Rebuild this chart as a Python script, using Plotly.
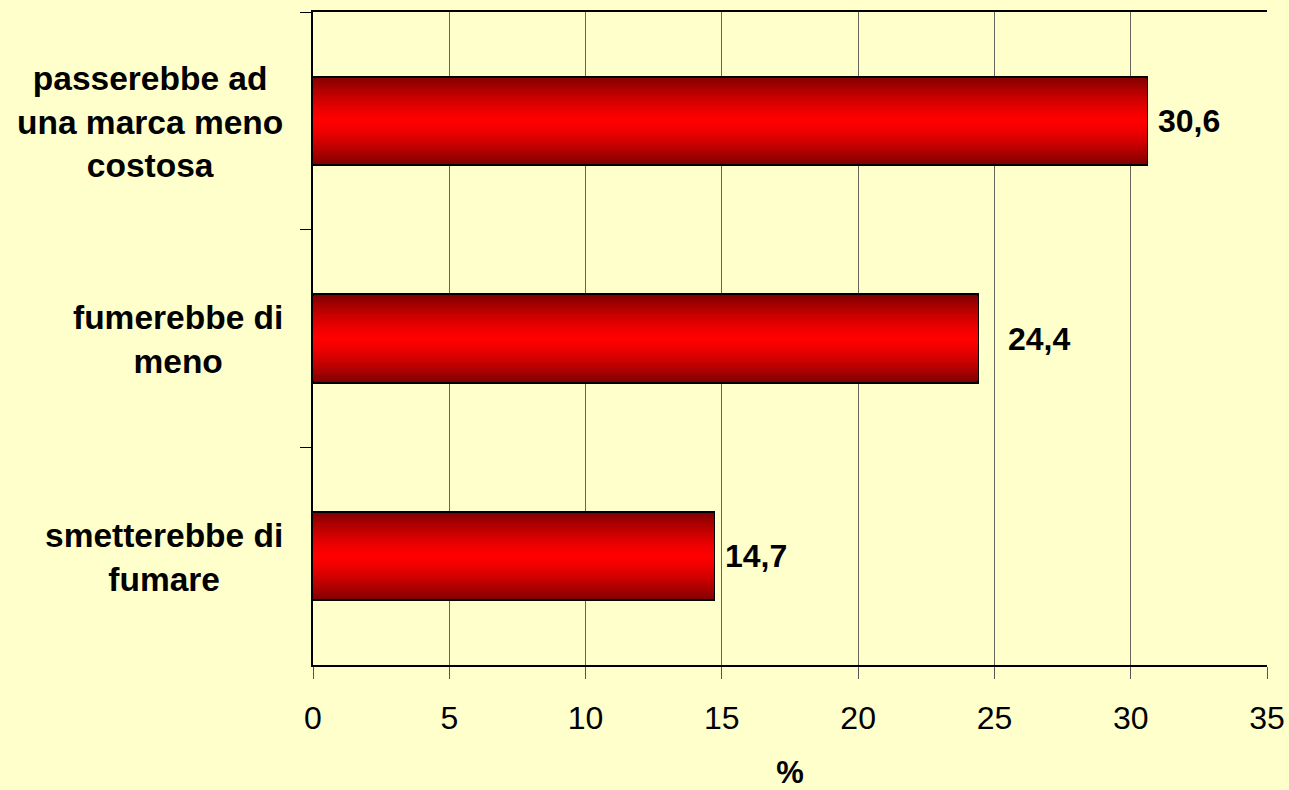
import plotly.graph_objects as go

categories = [
    "passerebbe ad<br>una marca meno<br>costosa",
    "fumerebbe di<br>meno",
    "smetterebbe di<br>fumare",
]
values = [30.6, 24.4, 14.7]
value_labels = ["30,6", "24,4", "14,7"]
label_shift = [9, 28, 9]
x_ticks = [0, 5, 10, 15, 20, 25, 30, 35]

FONT = "Arial, Liberation Sans, sans-serif"
BG = "#FFFFCC"
BAR_WIDTH = 0.405
LAYERS = 36


def shade(d):
    # d: 0 at bar centre, 1 at bar edge
    r = int(round(255 - 127 * d ** 1.4))
    return "rgb(%d,0,0)" % r


fig = go.Figure()

# stack narrower, brighter bars on top of each other to fake the vertical gradient
for i in range(LAYERS):
    frac = 1 - i / LAYERS
    fig.add_trace(
        go.Bar(
            y=categories,
            x=values,
            orientation="h",
            width=BAR_WIDTH * frac,
            marker=dict(
                color=shade(frac),
                line=dict(color="black", width=2 if i == 0 else 0),
            ),
            hoverinfo="skip",
            showlegend=False,
        )
    )

for cat, val, lab, sh in zip(categories, values, value_labels, label_shift):
    fig.add_annotation(
        x=val, y=cat, text="<b>%s</b>" % lab, showarrow=False,
        xanchor="left", yanchor="middle", xshift=sh,
        font=dict(family=FONT, size=32, color="black"),
    )
    fig.add_annotation(
        x=-0.029, xref="paper", y=cat, text="<b>%s</b>" % cat, showarrow=False,
        xanchor="right", yanchor="middle", align="center", yshift=-1,
        font=dict(family=FONT, size=33.5, color="black"),
    )

fig.update_layout(
    width=1289,
    height=790,
    margin=dict(l=313, r=22, t=12, b=125),
    paper_bgcolor=BG,
    plot_bgcolor=BG,
    barmode="overlay",
    bargap=0,
    xaxis=dict(
        range=[0, 35],
        tickvals=x_ticks,
        automargin=False,
        showgrid=True,
        gridcolor="#66665c",
        gridwidth=1,
        showline=True,
        linecolor="black",
        linewidth=1.5,
        mirror=True,
        ticks="outside",
        ticklen=12,
        tickcolor="#555",
        tickfont=dict(family=FONT, size=32, color="black"),
        ticklabelstandoff=12,
        zeroline=False,
        title=dict(text="<b>%</b>", font=dict(family=FONT, size=31, color="black"), standoff=30),
    ),
    yaxis=dict(
        autorange="reversed",
        automargin=False,
        showticklabels=False,
        tickson="boundaries",
        ticks="outside",
        ticklen=11,
        tickcolor="black",
        showline=True,
        linecolor="black",
        linewidth=1.5,
        showgrid=False,
        zeroline=False,
    ),
)

fig.write_html(
    "out.html",
    config={"displayModeBar": False},
    post_script="document.body.style.margin='0';",
)
